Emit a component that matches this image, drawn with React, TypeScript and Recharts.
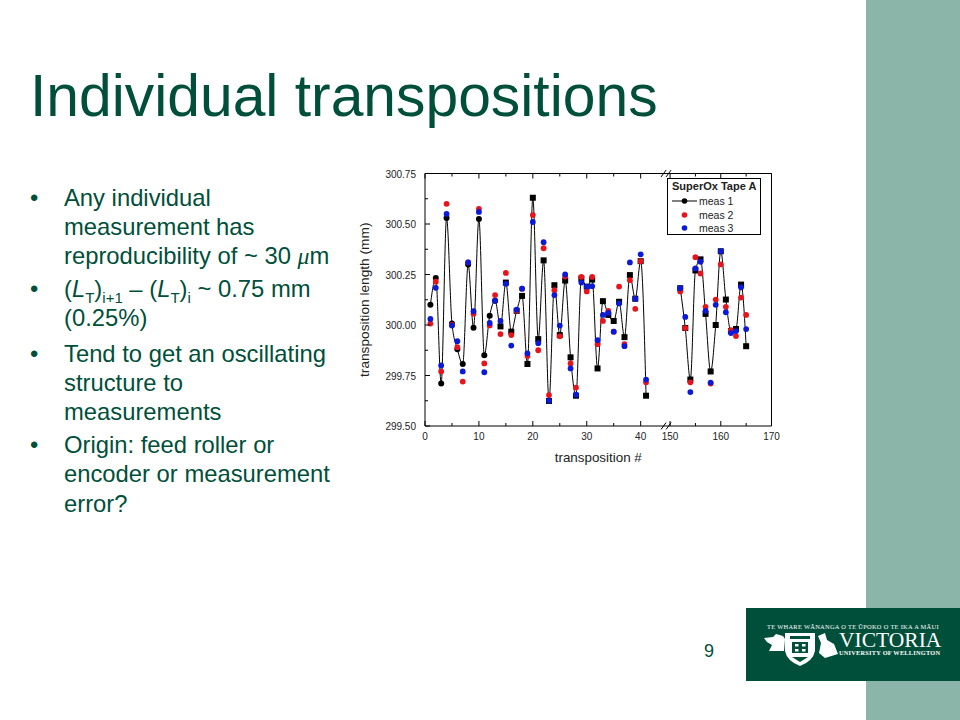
import React from 'react';
import { ComposedChart, Line, XAxis, YAxis, Legend, ReferenceLine } from 'recharts';

const transpositions = [
  1, 2, 3, 4, 5, 6, 7, 8, 9, 10, 11, 12, 13, 14, 15, 16, 17, 18, 19, 20, 21,
  22, 23, 24, 25, 26, 27, 28, 29, 30, 31, 32, 33, 34, 35, 36, 37, 38, 39, 40, 41,
  152, 153, 154, 155, 156, 157, 158, 159, 160, 161, 162, 163, 164, 165,
];
const meas1 = [
  300.1, 300.233, 299.71, 300.53, 300.007, 299.88, 299.807, 300.3, 299.987, 300.525, 299.85,
  300.046, 300.12, 299.993, 300.21, 299.967, 300.07, 300.144, 299.807, 300.63, 299.93,
  300.32, 299.624, 300.197, 299.95, 300.22, 299.84, 299.65, 300.23, 300.19, 300.225,
  299.785, 300.118, 300.05, 300.02, 300.115, 299.94, 300.247, 300.13, 300.316, 299.65,
  300.182, 299.985, 299.73, 300.27, 300.325, 300.055, 299.77, 300.0, 300.365, 300.126,
  299.97, 299.98, 300.2, 299.895,
];
const meas2 = [
  300.007, 300.214, 299.77, 300.6, 300.0, 299.89, 299.72, 300.31, 300.056, 300.575, 299.81,
  299.998, 300.148, 299.955, 300.258, 299.95, 300.07, 300.18, 299.846, 300.544, 299.875,
  300.38, 299.653, 300.172, 299.944, 300.24, 299.81, 299.69, 300.238, 300.166, 300.238,
  299.905, 300.02, 300.07, 299.967, 300.19, 299.905, 300.222, 300.08, 300.316, 299.716,
  300.166, 299.985, 299.716, 300.336, 300.255, 300.09, 299.71, 300.126, 300.3, 300.09,
  299.975, 299.945, 300.136, 300.05,
];
const meas3 = [
  300.03, 300.184, 299.8, 300.55, 299.997, 299.92, 299.77, 300.31, 300.068, 300.56, 299.766,
  300.01, 300.12, 300.02, 300.204, 299.898, 300.076, 300.18, 299.86, 300.51, 299.91,
  300.41, 299.625, 300.148, 299.997, 300.25, 299.785, 299.655, 300.21, 300.19, 300.192,
  299.925, 300.05, 300.06, 299.967, 300.107, 299.895, 300.31, 300.13, 300.35, 299.73,
  300.182, 300.04, 299.668, 300.28, 300.313, 300.07, 299.715, 300.1, 300.365, 300.063,
  299.96, 299.97, 300.187, 299.98,
];

const xTicks = [0, 5, 10, 15, 20, 25, 30, 35, 40, 150, 155, 160, 165, 170];
const xLabels = [0, 10, 20, 30, 40, 150, 160, 170];
const yTicks = [299.5, 299.625, 299.75, 299.875, 300, 300.125, 300.25, 300.375, 300.5, 300.625, 300.75];
const yLabels = [299.5, 299.75, 300, 300.25, 300.5, 300.75];

const bodyLines = [
  { top: 184, bullet: true, text: 'Any individual' },
  { top: 213, text: 'measurement has' },
  { top: 242, text: 'reproducibility  of ~ 30 ', micro: true },
  { top: 275, bullet: true, formula: true },
  { top: 304, text: '(0.25%)' },
  { top: 340, bullet: true, text: 'Tend to get an oscillating' },
  { top: 369, text: 'structure to' },
  { top: 398, text: 'measurements' },
  { top: 431, bullet: true, text: 'Origin: feed roller or' },
  { top: 460, text: 'encoder or measurement' },
  { top: 490, text: 'error?' },
];

// the x axis has a break: both halves are drawn to their own scale
const axisPos = (n: number) => (n < 100 ? n * 5.39 : 245 + (n - 150) * 5.07);

const rows: any[] = [];
transpositions.forEach((n, i) => {
  if (n === 152) rows.push({ pos: axisPos(45), meas1: null, meas2: null, meas3: null });
  rows.push({ pos: axisPos(n), n, meas1: meas1[i], meas2: meas2[i], meas3: meas3[i] });
});

const GREEN = '#004f3a';
const FONT = '"Liberation Sans", Arial, sans-serif';

const XTick = ({ x, y, payload, orientation }: any) => {
  const n = xTicks.find((t) => axisPos(t) === payload.value) as number;
  const major = xLabels.includes(n);
  const len = major ? 5 : 3;
  const top = orientation === 'top';
  return (
    <g>
      <line x1={x} x2={x} y1={y} y2={top ? y + len : y - len} stroke="#000" />
      {!top && major && (
        <text x={x} y={y + 14} textAnchor="middle" fontSize={10} fill="#222" fontFamily={FONT}>{n}</text>
      )}
    </g>
  );
};

const YTick = ({ x, y, payload, orientation }: any) => {
  const major = yLabels.includes(payload.value);
  const len = major ? 5 : 3;
  const right = orientation === 'right';
  return (
    <g>
      <line x1={x} x2={right ? x - len : x + len} y1={y} y2={y} stroke="#000" />
      {!right && major && (
        <text x={x - 9} y={y + 4} textAnchor="end" fontSize={10} fill="#222" fontFamily={FONT}>{payload.value.toFixed(2)}</text>
      )}
    </g>
  );
};

// first transpositions were plotted with circles, the rest with squares
const BlackDot = ({ cx, cy, index }: any) => {
  if (cy == null) return <g key={index} />;
  if (rows[index].n <= 13) return <circle key={index} cx={cx} cy={cy} r={3} fill="#000" />;
  return <rect key={index} x={cx - 3} y={cy - 3} width={6} height={6} fill="#000" />;
};

const LegendBox = ({ payload }: any) => (
  <div style={{ width: 94, height: 57, boxSizing: 'border-box', border: '1px solid #000', background: '#fff', fontFamily: FONT, color: '#222', position: 'relative' }}>
    <div style={{ position: 'absolute', left: 4, top: 1, fontSize: 11, fontWeight: 700, whiteSpace: 'nowrap' }}>SuperOx Tape A</div>
    {(payload || []).map((p: any, i: number) => (
      <div key={p.value} style={{ position: 'absolute', left: 0, top: 15 + i * 13.7, height: 14, width: 92 }}>
        <svg width={30} height={14} style={{ position: 'absolute', left: 4, top: 0 }}>
          {i === 0 && <line x1={0} x2={25} y1={7} y2={7} stroke="#000" />}
          <circle cx={12.5} cy={7} r={2.8} fill={p.color} />
        </svg>
        <span style={{ position: 'absolute', left: 31, top: 1, fontSize: 10.5, whiteSpace: 'nowrap' }}>{p.value}</span>
      </div>
    ))}
  </div>
);

const Crest = () => (
  <svg width={76} height={38} viewBox="0 0 76 38" style={{ position: 'absolute', left: 17, top: 23 }}>
    <path d="M1 7 L10 6 L13 3 L20 5 L22 8 L21 20 L6 20 L9 14 L4 11 Z" fill="#fff" />
    <path d="M22 2 L52 2 L52 20 Q50 30 37 35 Q24 30 22 20 Z" fill="#fff" />
    <rect x={27} y={5} width={20} height={3} fill={GREEN} />
    <rect x={29} y={11} width={16} height={11} fill={GREEN} />
    <rect x={32} y={13} width={3.5} height={2.5} fill="#fff" />
    <rect x={39} y={13} width={3.5} height={2.5} fill="#fff" />
    <rect x={32} y={18} width={3.5} height={2.5} fill="#fff" />
    <rect x={39} y={18} width={3.5} height={2.5} fill="#fff" />
    <path d="M29 26 L45 26 L37 31 Z" fill={GREEN} />
    <path d="M55 5 L62 2 L64 9 L71 13 L75 23 L62 27 L56 22 L58 12 Z" fill="#fff" />
  </svg>
);

const App = () => (
  <div style={{ position: 'absolute', left: 0, top: 0, width: 960, height: 720, background: '#fff', overflow: 'hidden', fontFamily: FONT, color: GREEN }}>
    <div style={{ position: 'absolute', left: 866, top: 0, width: 94, height: 720, background: '#8bb5a8' }} />

    <div style={{ position: 'absolute', left: 30, top: 61, fontSize: 58.8, lineHeight: '70px', whiteSpace: 'nowrap' }}>Individual transpositions</div>

    {bodyLines.map((l) => (
      <div key={l.top} style={{ position: 'absolute', left: 0, top: l.top, fontSize: 23.8, lineHeight: '28px', whiteSpace: 'nowrap' }}>
        {l.bullet && <span style={{ position: 'absolute', left: 30 }}>•</span>}
        <span style={{ position: 'absolute', left: 64 }}>
          {l.text}
          {l.micro && <><i style={{ fontFamily: '"Liberation Serif", serif' }}>μ</i>m</>}
          {l.formula && (
            <>
              (<i>L</i><sub style={{ fontSize: 15, lineHeight: 0 }}>T</sub>)<sub style={{ fontSize: 15, lineHeight: 0 }}>i+1</sub> – (<i>L</i><sub style={{ fontSize: 15, lineHeight: 0 }}>T</sub>)<sub style={{ fontSize: 15, lineHeight: 0 }}>i</sub> ~ 0.75 mm
            </>
          )}
        </span>
      </div>
    ))}

    <div style={{ position: 'absolute', left: 704, top: 640, fontSize: 18, lineHeight: '22px' }}>9</div>

    <div style={{ position: 'absolute', left: 746, top: 608, width: 214, height: 73, background: GREEN, color: '#fff', fontFamily: '"Liberation Serif", serif' }}>
      <div style={{ position: 'absolute', left: 21, top: 15, fontSize: 6.4, lineHeight: '7px', whiteSpace: 'nowrap', letterSpacing: 0.3 }}>TE WHARE WĀNANGA O TE ŪPOKO O TE IKA A MĀUI</div>
      <Crest />
      <div style={{ position: 'absolute', left: 93, top: 23, fontSize: 21.5, lineHeight: '19px', whiteSpace: 'nowrap' }}>VICTORIA</div>
      <div style={{ position: 'absolute', left: 93, top: 41, fontSize: 6.3, lineHeight: '7px', fontWeight: 700, whiteSpace: 'nowrap', letterSpacing: 0.25 }}>UNIVERSITY OF WELLINGTON</div>
    </div>

    <div style={{ position: 'absolute', left: 350, top: 160 }}>
      <ComposedChart width={440} height={320} data={rows} margin={{ top: 3.5, right: 8.5, bottom: 24, left: 15 }}>
        <XAxis
          xAxisId="bottom"
          dataKey="pos"
          type="number"
          domain={[0, 346.4]}
          ticks={xTicks.map(axisPos)}
          interval={0}
          tick={<XTick orientation="bottom" />}
          tickLine={false}
          tickSize={0}
          tickMargin={0}
          height={30}
          stroke="#000"
          label={{ value: 'transposition #', position: 'bottom', offset: -4, fontSize: 13.4, fill: '#222', fontFamily: FONT }}
        />
        <XAxis
          xAxisId="top"
          orientation="top"
          dataKey="pos"
          type="number"
          domain={[0, 346.4]}
          ticks={xTicks.map(axisPos)}
          interval={0}
          tick={<XTick orientation="top" />}
          tickLine={false}
          tickSize={0}
          tickMargin={0}
          height={10}
          stroke="#000"
        />
        <YAxis
          yAxisId="left"
          type="number"
          domain={[299.5, 300.75]}
          ticks={yTicks}
          interval={0}
          tick={<YTick orientation="left" />}
          tickLine={false}
          tickSize={0}
          tickMargin={0}
          width={60}
          stroke="#000"
          label={{ value: 'transposition length (mm)', angle: -90, position: 'left', offset: 1, style: { textAnchor: 'middle' }, fontSize: 13.7, fill: '#222', fontFamily: FONT }}
        />
        <YAxis
          yAxisId="right"
          orientation="right"
          type="number"
          domain={[299.5, 300.75]}
          ticks={yTicks}
          interval={0}
          tick={<YTick orientation="right" />}
          tickLine={false}
          tickSize={0}
          tickMargin={0}
          width={10}
          stroke="#000"
        />
        <Line xAxisId="bottom" yAxisId="left" dataKey="meas1" name="meas 1" type="monotone" stroke="#000" strokeWidth={1} dot={<BlackDot />} isAnimationActive={false} />
        <Line xAxisId="bottom" yAxisId="left" dataKey="meas2" name="meas 2" stroke="#e8141c" strokeWidth={0} dot={{ r: 2.9, fill: '#e8141c', stroke: 'none' }} isAnimationActive={false} />
        <Line xAxisId="bottom" yAxisId="left" dataKey="meas3" name="meas 3" stroke="#0a1ad8" strokeWidth={0} dot={{ r: 2.9, fill: '#0a1ad8', stroke: 'none' }} isAnimationActive={false} />
        {[300.75, 299.5].map((v) => (
          <ReferenceLine key={v} xAxisId="bottom" yAxisId="left" ifOverflow="visible" segment={[{ x: 238, y: v }, { x: 243, y: v }]} stroke="#fff" strokeWidth={3} />
        ))}
        {[300.75, 299.5].flatMap((v) => [236, 241].map((px) => (
          <ReferenceLine key={`${v}-${px}`} xAxisId="bottom" yAxisId="left" ifOverflow="visible" segment={[{ x: px, y: v - 0.017 }, { x: px + 5, y: v + 0.017 }]} stroke="#000" />
        )))}
        <Legend layout="horizontal" verticalAlign="middle" content={<LegendBox />} wrapperStyle={{ left: 317, top: 18, width: 94, height: 57 }} />
      </ComposedChart>
    </div>
  </div>
);

export default App;
